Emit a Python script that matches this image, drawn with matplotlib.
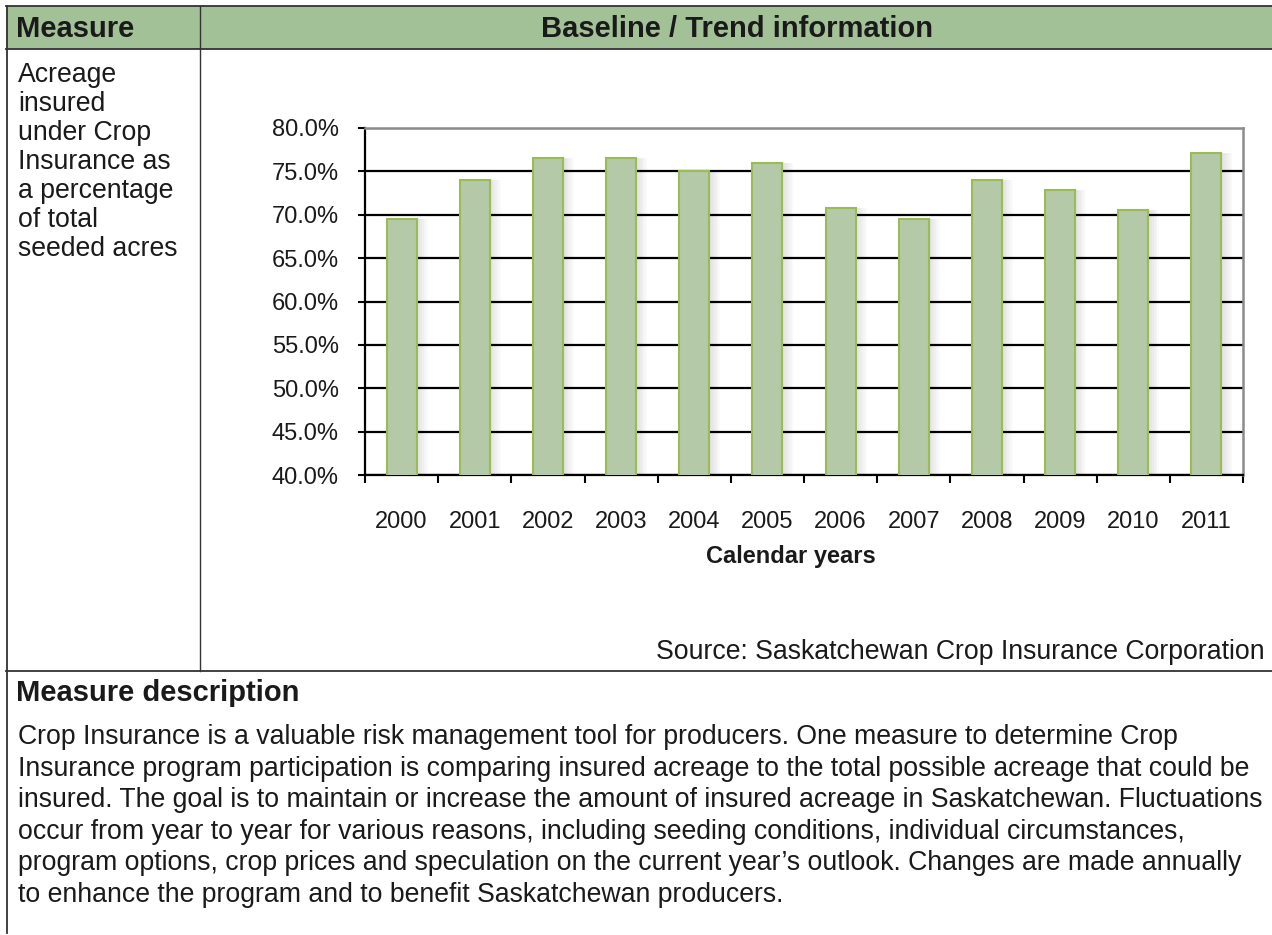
import numpy as np
import matplotlib
matplotlib.use("Agg")
import matplotlib.pyplot as plt
from matplotlib.patches import Rectangle
from matplotlib.ticker import FixedLocator, FuncFormatter

plt.rcParams["font.family"] = ["Liberation Sans", "DejaVu Sans"]

# data
years = ["2000", "2001", "2002", "2003", "2004", "2005",
         "2006", "2007", "2008", "2009", "2010", "2011"]
insured_pct = [69.5, 74.0, 76.5, 76.5, 75.0, 76.0,
               70.8, 69.5, 74.0, 72.9, 70.6, 77.1]
y_ticks = [40, 45, 50, 55, 60, 65, 70, 75, 80]

measure_lines = ["Acreage", "insured", "under Crop", "Insurance as",
                 "a percentage", "of total", "seeded acres"]
description_lines = [
    "Crop Insurance is a valuable risk management tool for producers. One measure to determine Crop",
    "Insurance program participation is comparing insured acreage to the total possible acreage that could be",
    "insured. The goal is to maintain or increase the amount of insured acreage in Saskatchewan. Fluctuations",
    "occur from year to year for various reasons, including seeding conditions, individual circumstances,",
    "program options, crop prices and speculation on the current year\u2019s outlook. Changes are made annually",
    "to enhance the program and to benefit Saskatchewan producers.",
]

W, H = 1272, 935
fig = plt.figure(figsize=(W / 100, H / 100), dpi=100)

# table frame drawn in pixel coordinates
bg = fig.add_axes([0, 0, 1, 1])
bg.set_xlim(0, W)
bg.set_ylim(H, 0)
bg.axis("off")

line_c = "#333333"
bg.add_patch(Rectangle((6, 6), W, 43, facecolor="#a3c197", edgecolor="none"))
bg.plot([6, W], [6, 6], color=line_c, lw=1.3)
bg.plot([6, W], [49, 49], color=line_c, lw=1.3)
bg.plot([6, W], [671, 671], color=line_c, lw=1.3)
bg.plot([6.5, 6.5], [6, 933], color=line_c, lw=1.3)
bg.plot([200, 200], [6, 671], color=line_c, lw=1.0)

txt_c = "#1a1a1a"
body = 19.2
bg.text(16, 29, "Measure", fontsize=21, fontweight="bold", color=txt_c, va="center")
bg.text(737, 29, "Baseline / Trend information", fontsize=21, fontweight="bold",
        color=txt_c, va="center", ha="center")
for i, s in enumerate(measure_lines):
    bg.text(18, 75 + i * 29, s, fontsize=body, color=txt_c, va="center")
bg.text(1265, 652, "Source: Saskatchewan Crop Insurance Corporation", fontsize=body,
        color=txt_c, va="center", ha="right")
bg.text(16, 693, "Measure description", fontsize=21, fontweight="bold", color=txt_c, va="center")
for i, s in enumerate(description_lines):
    bg.text(18, 737 + i * 31.6, s, fontsize=body, color=txt_c, va="center")

# chart
ax = fig.add_axes([365 / W, 1 - 475 / H, (1243 - 365) / W, (475 - 128) / H])
x = np.arange(len(years))
for k in range(1, 7):
    ax.bar(x + k * 0.025, insured_pct, width=0.41, color="black", alpha=0.018,
           edgecolor="none", zorder=2)
ax.bar(x, insured_pct, width=0.41, color="#b3c9a7", edgecolor="#9bbb59",
       linewidth=1.5, zorder=3)

ax.set_xlim(-0.5, len(years) - 0.5)
ax.set_ylim(40, 80)
ax.set_yticks(y_ticks)
ax.yaxis.set_major_formatter(FuncFormatter(lambda v, p: f"{v:.1f}%"))
ax.yaxis.grid(True, color="black", lw=1.6)
ax.set_axisbelow(True)

ax.xaxis.set_major_locator(FixedLocator(np.arange(-0.5, len(years), 1.0)))
ax.xaxis.set_major_formatter(FuncFormatter(lambda v, p: ""))
ax.xaxis.set_minor_locator(FixedLocator(x))
ax.set_xticks(x, years, minor=True)
ax.tick_params(axis="x", which="major", direction="out", length=6, width=1.5, color="black")
ax.tick_params(axis="x", which="minor", length=0, pad=26, labelsize=17, labelcolor=txt_c)
ax.tick_params(axis="y", direction="out", length=5, width=1.5, pad=14,
               labelsize=17, labelcolor=txt_c)

for side in ["left", "bottom"]:
    ax.spines[side].set_color("black")
    ax.spines[side].set_linewidth(1.6)
for side in ["top", "right"]:
    ax.spines[side].set_color("#8c8c8c")
    ax.spines[side].set_linewidth(1.8)

bg.text(791, 556, "Calendar years", fontsize=17, fontweight="bold", color=txt_c,
        va="center", ha="center")

fig.savefig("out.png", dpi=100)
